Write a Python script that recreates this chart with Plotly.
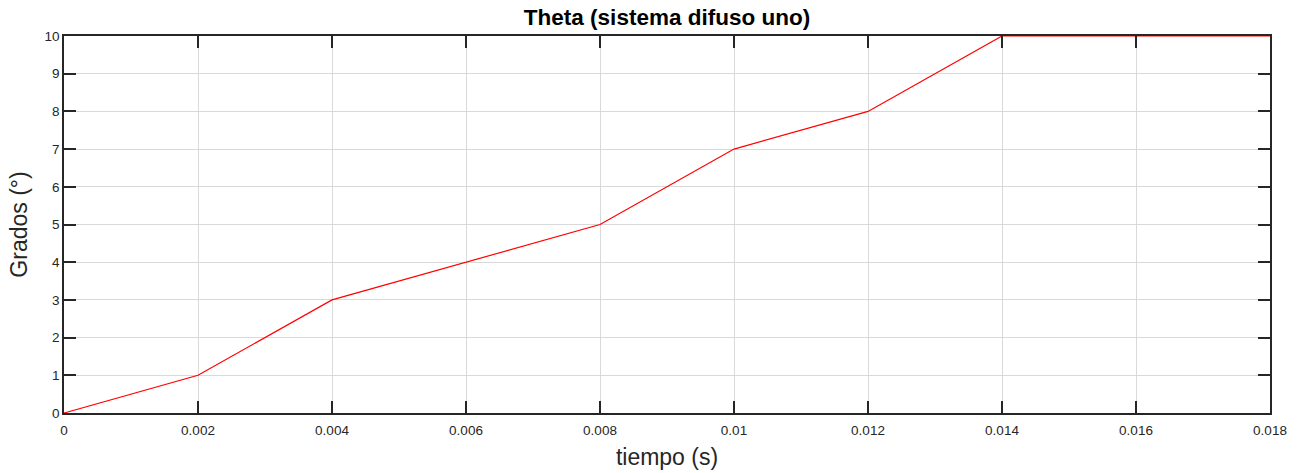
import plotly.graph_objects as go

tiempo = [0, 0.002, 0.004, 0.006, 0.008, 0.010, 0.012, 0.014, 0.016, 0.018]
theta = [0, 1, 3, 4, 5, 7, 8, 10, 10, 10]

x_ticks = [0, 0.002, 0.004, 0.006, 0.008, 0.01, 0.012, 0.014, 0.016, 0.018]
x_tick_labels = ["0", "0.002", "0.004", "0.006", "0.008", "0.01", "0.012", "0.014", "0.016", "0.018"]
y_ticks = list(range(0, 11))

FONT = "Liberation Sans, Arial, sans-serif"

fig = go.Figure()
fig.add_trace(go.Scatter(x=tiempo, y=theta, mode="lines",
                         line=dict(color="#ff0000", width=1.2), showlegend=False,
                         cliponaxis=False))

axis_common = dict(
    showline=True, linecolor="#262626", linewidth=1.5, mirror="ticks",
    ticks="inside", ticklen=12, tickwidth=1.5, tickcolor="#262626",
    showgrid=True, gridcolor="#d9d9d9", gridwidth=1,
    zeroline=False, automargin=False,
    tickfont=dict(family=FONT, size=13.5, color="#262626"),
)

fig.update_layout(
    width=1304, height=473,
    margin=dict(l=64, r=34, t=36, b=60, autoexpand=False),
    paper_bgcolor="white", plot_bgcolor="white",
    title=dict(text="<b>Theta (sistema difuso uno)</b>", x=667 / 1304, xanchor="center",
               y=1 - 17.5/473, yanchor="middle", automargin=False,
               font=dict(family=FONT, size=22.5, color="black")),
    xaxis=dict(range=[0, 0.018], tickvals=x_ticks, ticktext=x_tick_labels,
               ticklabelstandoff=4,
               title=dict(text="tiempo (s)", standoff=12,
                          font=dict(family=FONT, size=23, color="#262626")),
               **axis_common),
    yaxis=dict(range=[0, 10], tickvals=y_ticks,
               title=dict(text="Grados (°)", standoff=10,
                          font=dict(family=FONT, size=23, color="#262626")),
               **axis_common),
)

# remove the default 8px page margin so the figure fills the window exactly
fig.write_html("out.html", config={"displayModeBar": False},
               post_script="document.body.style.margin='0';")
